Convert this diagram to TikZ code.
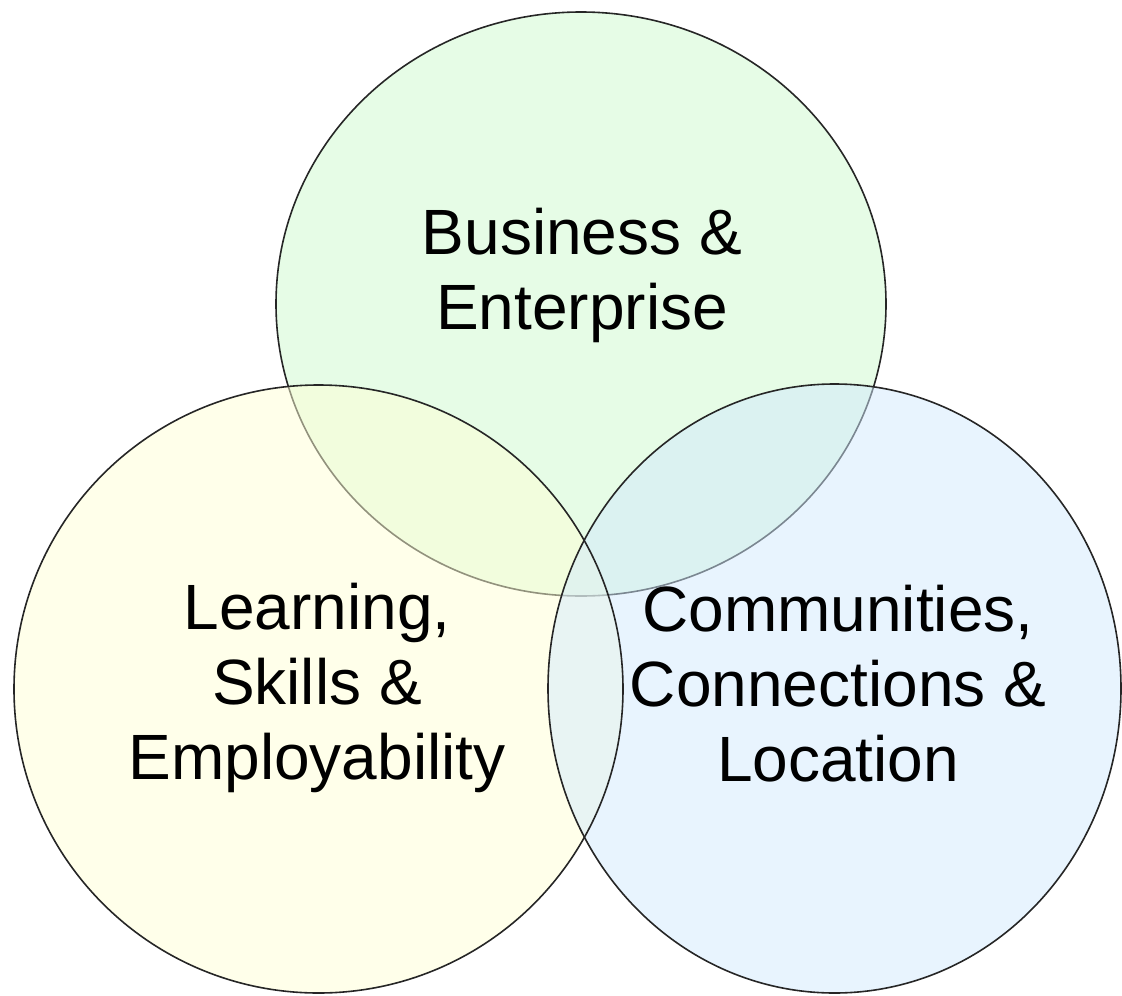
\documentclass[tikz,border=0pt]{standalone}
\usepackage{fontspec}
\setmainfont{Liberation Sans}
\definecolor{topc}{RGB}{205,249,205}
\definecolor{leftc}{RGB}{255,255,213}
\definecolor{rightc}{RGB}{209,233,253}
\begin{document}
\begin{tikzpicture}[x=1pt,y=-1pt,
  setlabel/.style={align=center,font=\fontsize{64}{75}\selectfont,text=black},
  ring/.style={draw=black!85,line width=1.6pt}]
\useasboundingbox (0,0) rectangle (1122,996);
% top ellipse (Business)
\fill[topc,fill opacity=0.5] (581,304) ellipse [x radius=305,y radius=292];
\draw[ring] (581,304) ellipse [x radius=305,y radius=292];
% left and right
\fill[leftc,fill opacity=0.5] (318.5,689) ellipse [x radius=304.5,y radius=304];
\fill[rightc,fill opacity=0.5] (834.5,688.5) ellipse [x radius=286.5,y radius=304.5];
\draw[ring] (318.5,689) ellipse [x radius=304.5,y radius=304];
\draw[ring] (834.5,688.5) ellipse [x radius=286.5,y radius=304.5];
\node[setlabel] (biz) at (582,275) {Business \&\\Enterprise};
\node[setlabel] (learn) at (317,688) {Learning,\\Skills \&\\Employability};
\node[setlabel] (comm) at (838,684) {Communities,\\Connections \&\\Location};
\end{tikzpicture}
\end{document}
